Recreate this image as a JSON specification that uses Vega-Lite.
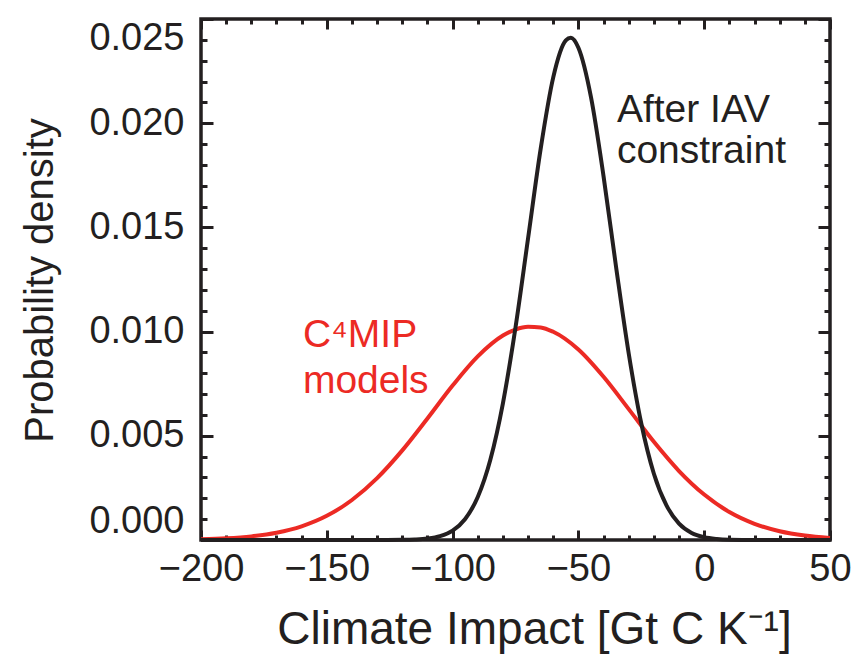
{
  "$schema": "https://vega.github.io/schema/vega-lite/v6.json",
  "width": 629,
  "height": 521,
  "autosize": {"type": "none"},
  "padding": {"left": 201, "top": 19, "right": 27, "bottom": 120},
  "background": "white",
  "config": {
    "view": {"stroke": "#231f20", "strokeWidth": 3.5},
    "axis": {
      "domain": false,
      "grid": false,
      "tickColor": "#231f20",
      "tickWidth": 3,
      "labelFont": "Liberation Sans",
      "labelColor": "#231f20",
      "labelFontSize": 38,
      "titleFont": "Liberation Sans",
      "titleColor": "#231f20",
      "titleFontWeight": "normal"
    }
  },
  "datasets": {
    "c4mip": [
      {"x": -200, "y": 0.000035},
      {"x": -190, "y": 0.000081},
      {"x": -180, "y": 0.000173},
      {"x": -170, "y": 0.000349},
      {"x": -160, "y": 0.000657},
      {"x": -150, "y": 0.00116},
      {"x": -140, "y": 0.00192},
      {"x": -130, "y": 0.00297},
      {"x": -120, "y": 0.0043},
      {"x": -110, "y": 0.00583},
      {"x": -100, "y": 0.00741},
      {"x": -90, "y": 0.00881},
      {"x": -80, "y": 0.00981},
      {"x": -75, "y": 0.0101},
      {"x": -70, "y": 0.01023},
      {"x": -65, "y": 0.0102},
      {"x": -60, "y": 0.00999},
      {"x": -50, "y": 0.00914},
      {"x": -40, "y": 0.00783},
      {"x": -30, "y": 0.00628},
      {"x": -20, "y": 0.00471},
      {"x": -10, "y": 0.00331},
      {"x": 0, "y": 0.00218},
      {"x": 10, "y": 0.00134},
      {"x": 20, "y": 0.000775},
      {"x": 30, "y": 0.000419},
      {"x": 40, "y": 0.000212},
      {"x": 50, "y": 0.0001}
    ],
    "iav": [
      {"x": -200, "y": 0},
      {"x": -130, "y": 0},
      {"x": -120, "y": 0.000007},
      {"x": -115, "y": 0.000023},
      {"x": -110, "y": 0.000068},
      {"x": -105, "y": 0.000183},
      {"x": -100, "y": 0.00045},
      {"x": -95, "y": 0.00101},
      {"x": -90, "y": 0.00206},
      {"x": -85, "y": 0.00385},
      {"x": -80, "y": 0.00656},
      {"x": -75, "y": 0.0102},
      {"x": -70, "y": 0.01448},
      {"x": -65, "y": 0.01877},
      {"x": -60, "y": 0.0222},
      {"x": -55, "y": 0.02397},
      {"x": -53, "y": 0.0241},
      {"x": -50, "y": 0.02362},
      {"x": -45, "y": 0.02125},
      {"x": -40, "y": 0.01745},
      {"x": -35, "y": 0.01308},
      {"x": -30, "y": 0.00895},
      {"x": -25, "y": 0.00559},
      {"x": -20, "y": 0.00318},
      {"x": -15, "y": 0.00166},
      {"x": -10, "y": 0.000786},
      {"x": -5, "y": 0.000341},
      {"x": 0, "y": 0.000135},
      {"x": 5, "y": 0.000049},
      {"x": 10, "y": 0.000016},
      {"x": 20, "y": 0},
      {"x": 50, "y": 0}
    ],
    "labelIav": [{"label": "After IAV\nconstraint", "x": -34.7, "y": 0.02006}],
    "labelC4": [{"label": "C⁴MIP\nmodels", "x": -159.5, "y": 0.00928}]
  },
  "resolve": {"axis": {"x": "independent", "y": "independent"}},
  "layer": [
    {
      "data": {"name": "c4mip"},
      "mark": {"type": "line", "color": "#ec2a24", "strokeWidth": 4, "interpolate": "monotone"},
      "encoding": {
        "x": {
          "field": "x", "type": "quantitative",
          "scale": {"domain": [-200, 50], "nice": false, "zero": false},
          "axis": {
            "orient": "bottom",
            "values": [-200, -150, -100, -50, 0, 50],
            "format": "d",
            "tickSize": -10,
            "labelPadding": 20,
            "labelFlush": false,
            "labelOverlap": false,
            "title": "Climate Impact [Gt C K⁻¹]",
            "titleFontSize": 46,
            "titleX": 333,
            "titleY": 103,
            "titleAnchor": null,
            "titleAlign": "center",
            "titleBaseline": "alphabetic"
          }
        },
        "y": {
          "field": "y", "type": "quantitative",
          "scale": {"domain": [0, 0.025], "nice": false, "zero": false},
          "axis": {
            "orient": "left",
            "values": [0, 0.005, 0.01, 0.015, 0.02, 0.025],
            "format": ".3f",
            "tickSize": -12,
            "labelPadding": 29,
            "labelFlush": true,
            "labelOverlap": false,
            "title": "Probability density",
            "titleFontSize": 40,
            "titleAngle": 270,
            "titleX": -149,
            "titleY": 261,
            "titleAlign": "center",
            "titleBaseline": "alphabetic"
          }
        }
      }
    },
    {
      "data": {"name": "iav"},
      "mark": {"type": "line", "color": "#231f20", "strokeWidth": 4, "interpolate": "monotone"},
      "encoding": {
        "x": {
          "field": "x", "type": "quantitative",
          "scale": {"domain": [-200, 50], "nice": false, "zero": false},
          "axis": {"orient": "top", "values": [-200, -150, -100, -50, 0, 50], "tickSize": -10, "labels": false, "title": null}
        },
        "y": {
          "field": "y", "type": "quantitative",
          "scale": {"domain": [0, 0.025], "nice": false, "zero": false},
          "axis": {"orient": "right", "values": [0, 0.005, 0.01, 0.015, 0.02, 0.025], "tickSize": -12, "labels": false, "title": null}
        }
      }
    },
    {
      "data": {"name": "labelIav"},
      "mark": {"type": "text", "align": "left", "baseline": "alphabetic", "font": "Liberation Sans", "fontSize": 39, "lineBreak": "\n", "lineHeight": 41, "color": "#231f20"},
      "encoding": {
        "text": {"field": "label"},
        "x": {
          "field": "x", "type": "quantitative",
          "scale": {"domain": [-200, 50], "nice": false, "zero": false},
          "axis": {"orient": "bottom", "values": [-190, -180, -170, -160, -140, -130, -120, -110, -90, -80, -70, -60, -40, -30, -20, -10, 10, 20, 30, 40], "tickSize": -5, "labels": false, "title": null}
        },
        "y": {
          "field": "y", "type": "quantitative",
          "scale": {"domain": [0, 0.025], "nice": false, "zero": false},
          "axis": {"orient": "left", "values": [0.001, 0.002, 0.003, 0.004, 0.006, 0.007, 0.008, 0.009, 0.011, 0.012, 0.013, 0.014, 0.016, 0.017, 0.018, 0.019, 0.021, 0.022, 0.023, 0.024], "tickSize": -6, "labels": false, "title": null}
        }
      }
    },
    {
      "data": {"name": "labelC4"},
      "mark": {"type": "text", "align": "left", "baseline": "alphabetic", "font": "Liberation Sans", "fontSize": 39, "lineBreak": "\n", "lineHeight": 46, "color": "#ec2a24"},
      "encoding": {
        "text": {"field": "label"},
        "x": {
          "field": "x", "type": "quantitative",
          "scale": {"domain": [-200, 50], "nice": false, "zero": false},
          "axis": {"orient": "top", "values": [-190, -180, -170, -160, -140, -130, -120, -110, -90, -80, -70, -60, -40, -30, -20, -10, 10, 20, 30, 40], "tickSize": -5, "labels": false, "title": null}
        },
        "y": {
          "field": "y", "type": "quantitative",
          "scale": {"domain": [0, 0.025], "nice": false, "zero": false},
          "axis": {"orient": "right", "values": [0.001, 0.002, 0.003, 0.004, 0.006, 0.007, 0.008, 0.009, 0.011, 0.012, 0.013, 0.014, 0.016, 0.017, 0.018, 0.019, 0.021, 0.022, 0.023, 0.024], "tickSize": -6, "labels": false, "title": null}
        }
      }
    }
  ]
}
